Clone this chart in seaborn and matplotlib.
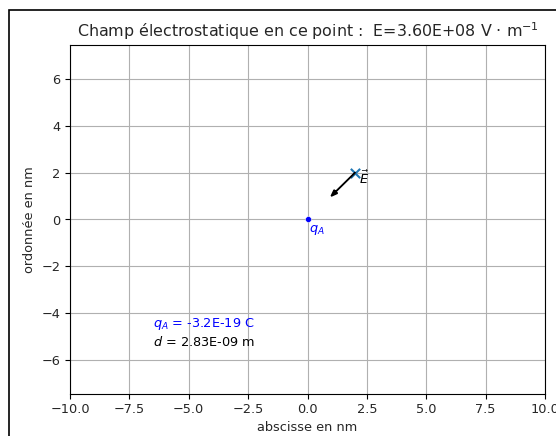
import numpy as np
import pandas as pd
import matplotlib
matplotlib.use("Agg")
import matplotlib.pyplot as plt
import seaborn as sns
from matplotlib.patches import Rectangle

# charge A et point M (en nm)
charge_x = [0.0]
charge_y = [0.0]
point_x = [2.0]
point_y = [2.0]
qA = -3.2e-19
k = 9e9

d = np.hypot(point_x[0] - charge_x[0], point_y[0] - charge_y[0]) * 1e-9
E = k * abs(qA) / d**2
# vecteur champ (longueur fixe sur la figure), dirigé vers la charge négative
ux = (charge_x[0] - point_x[0]) / (d * 1e9) * np.sqrt(2)
uy = (charge_y[0] - point_y[0]) / (d * 1e9) * np.sqrt(2)

sns.set_style("white")
plt.rcParams['font.family'] = ['DejaVu Sans']
fs = 9.3

fig = plt.figure(figsize=(5.56, 4.36), dpi=100)
fig.patches.append(Rectangle((9/556, -0.1), 1.2, 1 - 10/436 + 0.1, transform=fig.transFigure,
                             fill=False, edgecolor='black', linewidth=1.2))
ax = fig.add_axes([70/556, 1 - 394/436, 475/556, 349/436])

df_A = pd.DataFrame({"x": charge_x, "y": charge_y})
df_M = pd.DataFrame({"x": point_x, "y": point_y})
sns.scatterplot(data=df_A, x="x", y="y", ax=ax, color='b', marker='o', s=18, zorder=3)
sns.scatterplot(data=df_M, x="x", y="y", ax=ax, color='C0', marker='x', s=45, linewidth=1.5, zorder=3)
ax.arrow(point_x[0], point_y[0], ux, uy, head_width=0.2, head_length=0.27,
         length_includes_head=True, color='black', linewidth=1.1, zorder=4)

ax.text(charge_x[0] + 0.05, charge_y[0] - 0.55, '$q_A$', color='b', fontsize=fs)
ax.text(point_x[0] + 0.15, point_y[0] - 0.5, r'$\vec{E}$', color='black', fontsize=fs)
ax.text(-6.5, -4.6, '$q_A$ = %.1E C' % qA, color='b', fontsize=fs)
ax.text(-6.5, -5.4, '$d$ = %.2E m' % d, color='black', fontsize=fs)

ax.set_xlim(-10, 10)
ax.set_ylim(-7.45, 7.45)
ax.set_xticks(np.arange(-10, 10.1, 2.5))
ax.set_yticks(np.arange(-6, 6.1, 2))
ax.grid(True, color='#b0b0b0', linewidth=0.8)
ax.tick_params(axis='both', which='both', bottom=True, left=True, length=3.3, width=0.8,
               labelsize=fs, color='black')
for s in ax.spines.values():
    s.set_color('black')
    s.set_linewidth(0.8)
ax.set_xlabel('abscisse en nm', fontsize=fs, labelpad=3.5)
ax.set_ylabel('ordonnée en nm', fontsize=fs)
ax.set_title(r'Champ électrostatique en ce point :  E=%.2E V $\cdot$ m$^{-1}$' % E, fontsize=11.4)

fig.savefig("out.png", dpi=100)
